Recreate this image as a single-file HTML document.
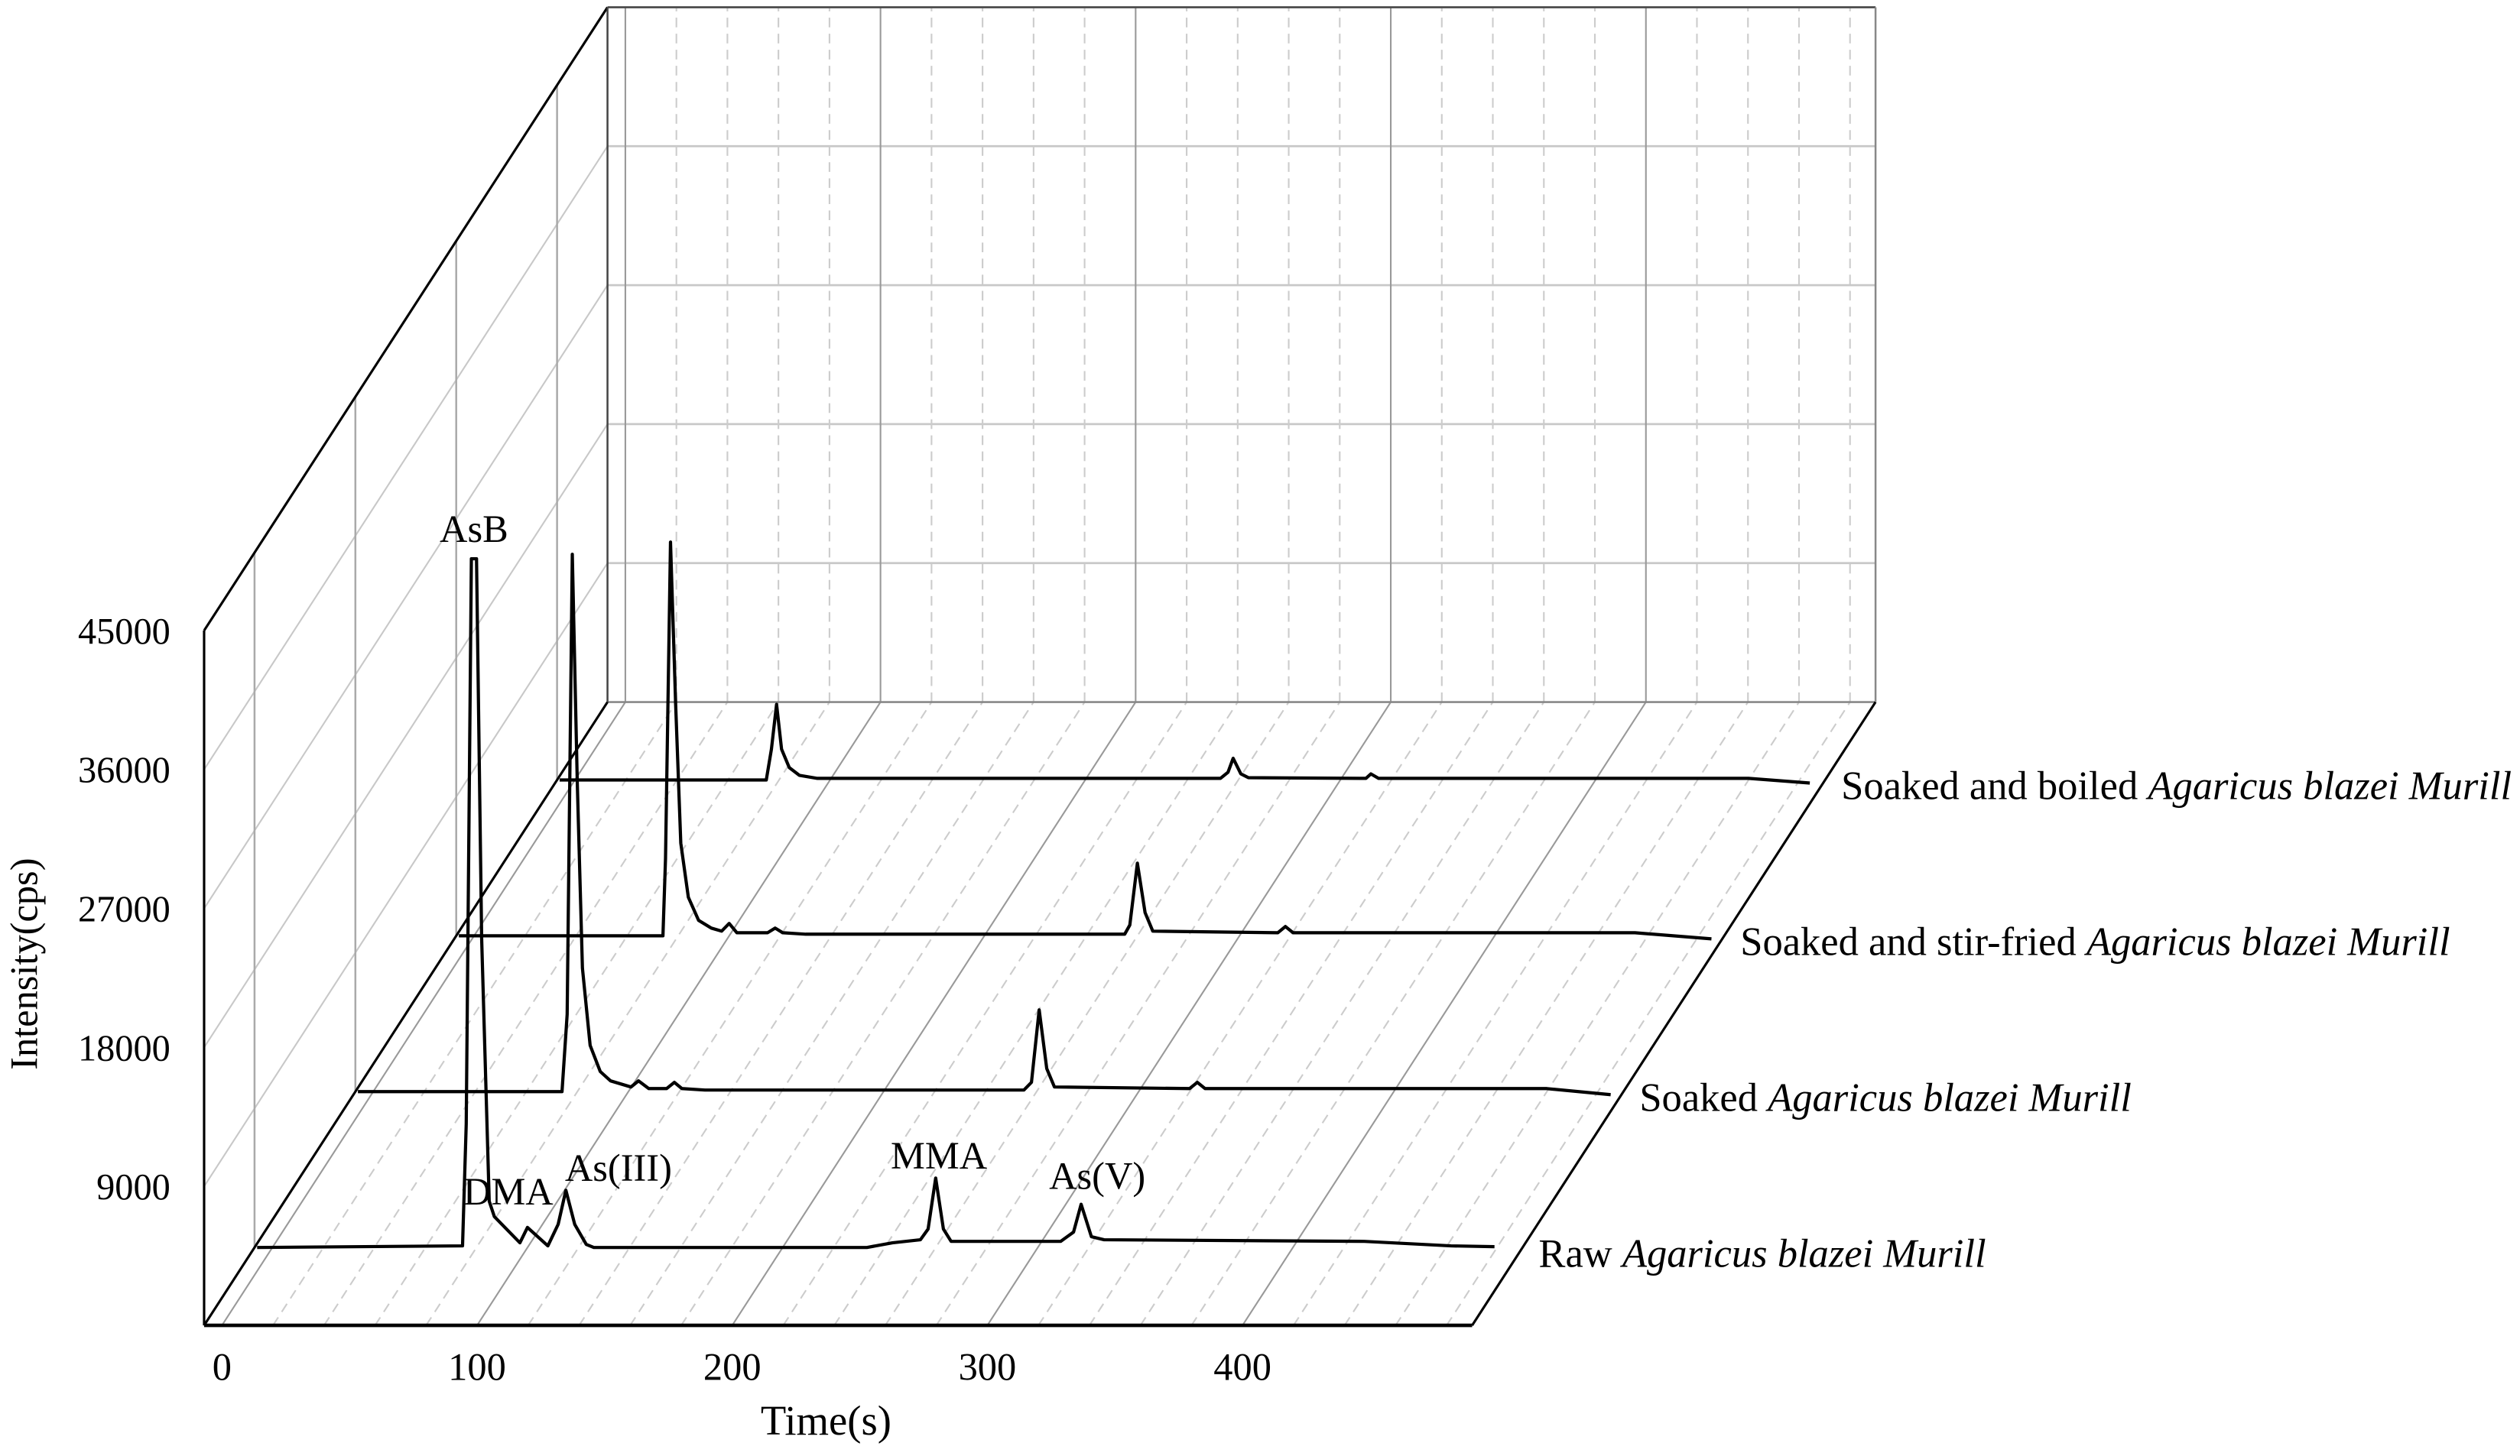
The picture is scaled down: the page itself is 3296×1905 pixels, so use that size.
<!DOCTYPE html>
<html><head><meta charset="utf-8"><style>
html,body{margin:0;padding:0;background:#fff;}
svg{display:block;}
text{font-family:"Liberation Serif",serif;fill:#000;}
</style></head><body>
<svg id="chart" width="3296" height="1905" viewBox="0 0 1568 906.3" preserveAspectRatio="none" xmlns="http://www.w3.org/2000/svg">
<g id="grid"></g>
<g id="series"></g>
<g id="labels"></g>
</svg>
<script>
const yTicks=[9000,18000,27000,36000,45000];
const xTicks=[0,100,200,300,400];
const seriesNames=["Raw","Soaked","Soaked and stir-fried","Soaked and boiled"];
const seriesDepths=[0.125,0.375,0.625,0.875];
const rawT=[-6,74.5,76,78,80,82,85,87,97,100,108,112,115,118.5,123,126,233,243,254,257,260,263,266,296,309,314,317,321,326,428,462,479];
const rawI=[0,100,8000,44600,44600,20000,3000,2000,300,1300,100,1500,3700,1500,200,0,0,300,500,1200,4500,1200,400,400,400,1000,2800,700,500,400,100,50];
const soakT=[-6,74,76,78,80,82,85,89,93,101,104,108,115,118,121,130,255,258,261,264,267,320,323,326,460,485];
const soakI=[0,0,5000,34800,20000,8000,3000,1300,700,300,700,200,200,600,200,100,100,600,5300,1500,300,200,600,200,200,-200];
const stirT=[-6,74,75,77,79,81,84,88,93,97,100,103,115,118,121,130,255,257,260,263,266,315,318,321,455,485];
const stirI=[0,0,5000,25500,15000,6000,2500,1000,500,300,800,200,200,500,200,100,100,700,4700,1500,300,200,600,200,200,-200];
const boilT=[-6,75,77,79,81,84,88,95,120,253,256,258,261,264,310,312,315,460,484];
const boilI=[0,0,2000,4900,2000,800,300,100,100,100,500,1400,400,150,100,400,100,100,-200];
const seriesT=[rawT,soakT,stirT,boilT];
const seriesI=[rawI,soakI,stirI,boilI];
const peakNames=["AsB","DMA","As(III)","MMA","As(V)"];
const peakT=[79,95,118,260,317];
const peakI=[45500,3500,4200,5200,3800];

const X0=127,Y0=825,DX=251,DY=-388,T0=-7,T1=490,FW=789,YS=86.5/9000;
function px(t,d){return X0+(t-T0)/(T1-T0)*FW+d*DX;}
function py(v,d){return Y0+d*DY-v*YS;}
const NS="http://www.w3.org/2000/svg";
function mk(p,tag,attrs){const e=document.createElementNS(NS,tag);for(const k in attrs)e.setAttribute(k,attrs[k]);p.appendChild(e);return e;}
const G=document.getElementById('grid'),S=document.getElementById('series'),L=document.getElementById('labels');
const light="#c8c8c8";
yTicks.forEach(v=>{const l=mk(G,'line',{x1:px(T0,1),y1:py(v,1),x2:px(T1,1),y2:py(v,1),stroke:light,'stroke-width':1.3});


const w=mk(G,'line',{x1:px(T0,0),y1:py(v,0),x2:px(T0,1),y2:py(v,1),stroke:light,'stroke-width':1});

});
for(let t=0;t<=480;t+=20){const major=t%100===0;
const a={stroke:major?"#999":"#ccc",'stroke-width':1};if(!major)a['stroke-dasharray']='6,4';
const f=mk(G,'line',Object.assign({x1:px(t,0),y1:py(0,0),x2:px(t,1),y2:py(0,1)},a));


const b=mk(G,'line',Object.assign({x1:px(t,1),y1:py(0,1),x2:px(t,1),y2:py(45000,1)},a));

}
seriesDepths.forEach(d=>{const l=mk(G,'line',{x1:px(T0,d),y1:py(0,d),x2:px(T0,d),y2:py(45000,d),stroke:"#aaa",'stroke-width':1.2});

});
const frame=[[T0,0,0,T1,0,0,2.2,"#000"],[T0,0,0,T0,0,45000,1.5,"#000"],[T0,0,45000,T0,1,45000,1.5,"#000"],[T0,1,45000,T1,1,45000,1.2,"#444"],[T1,1,45000,T1,1,0,1.2,"#888"],[T0,1,0,T1,1,0,1.2,"#888"],[T0,0,0,T0,1,0,1.5,"#000"],[T1,0,0,T1,1,0,1.5,"#000"],[T0,1,0,T0,1,45000,1.2,"#444"]];
frame.forEach(f=>{const l=mk(G,'line',{x1:px(f[0],f[1]),y1:py(f[2],f[1]),x2:px(f[3],f[4]),y2:py(f[5],f[4]),stroke:f[7],'stroke-width':f[6]});

});
for(let s=3;s>=0;s--){const d=seriesDepths[s];const T=seriesT[s],I=seriesI[s];
const pts=T.map((t,i)=>px(t,d).toFixed(1)+","+py(I[i],d).toFixed(1)).join(" ");
const p=mk(S,'polyline',{points:pts,fill:'none',stroke:'#000','stroke-width':2,'stroke-linejoin':'round'});


const tx=mk(L,'text',{x:px(T1,d)+10,y:py(0,d)+12,'font-size':25});


tx.textContent=seriesNames[s]+" ";const it=mk(tx,'tspan',{'font-style':'italic'});it.textContent="Agaricus blazei Murill";}
const peakDx=[0,-4,28,2,10];
const peakDy=[1,10,2,4,3];
peakNames.forEach((n,i)=>{const t=mk(L,'text',{x:px(peakT[i],0.125)+peakDx[i],y:py(peakI[i],0.125)-3+peakDy[i],'font-size':24,'text-anchor':'middle'});


t.textContent=n;});
yTicks.forEach(v=>{const t=mk(L,'text',{x:106,y:py(v,0)+8,'font-size':23,'text-anchor':'end'});


t.textContent=v;});
xTicks.forEach(v=>{const t=mk(L,'text',{x:px(v,0),y:859,'font-size':24,'text-anchor':'middle'});


t.textContent=v;});
const xt=mk(L,'text',{x:514,y:893,'font-size':26,'text-anchor':'middle'});


xt.textContent="Time(s)";
const yt=mk(L,'text',{x:0,y:0,'font-size':24,'text-anchor':'middle',transform:'translate(23,600) rotate(-90)'});


yt.textContent="Intensity(cps)";
</script>
</body></html>
